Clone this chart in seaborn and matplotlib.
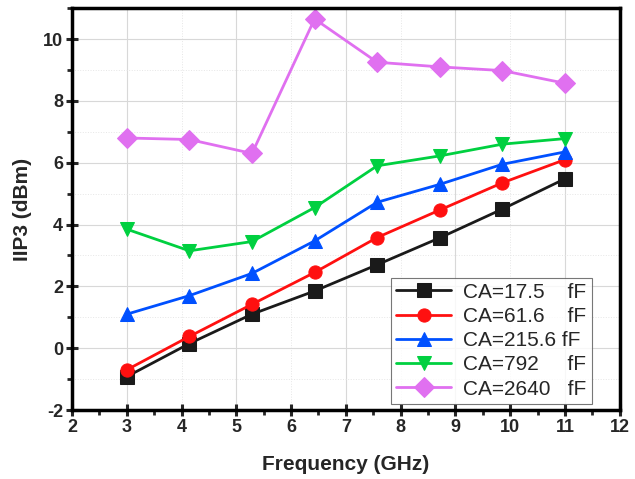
import numpy as np
import pandas as pd
import matplotlib
matplotlib.use("Agg")
import matplotlib.pyplot as plt
import seaborn as sns
from matplotlib.ticker import MultipleLocator

freq = [3.0, 4.143, 5.286, 6.429, 7.571, 8.714, 9.857, 11.0]
ca_17_5 = [-0.92, 0.15, 1.10, 1.85, 2.70, 3.57, 4.50, 5.48]
ca_61_6 = [-0.70, 0.38, 1.42, 2.45, 3.58, 4.47, 5.35, 6.10]
ca_215_6 = [1.10, 1.70, 2.42, 3.47, 4.72, 5.30, 5.95, 6.35]
ca_792 = [3.85, 3.15, 3.45, 4.55, 5.90, 6.22, 6.60, 6.78]
ca_2640 = [6.80, 6.75, 6.30, 10.65, 9.25, 9.10, 8.98, 8.57]

labels = ["CA=17.5    fF", "CA=61.6    fF", "CA=215.6 fF", "CA=792     fF", "CA=2640   fF"]
series = [ca_17_5, ca_61_6, ca_215_6, ca_792, ca_2640]
colors = ["#1a1a1a", "#ff1010", "#0050ff", "#00d040", "#e070f0"]
markers = ["s", "o", "^", "v", "D"]

sns.set_style("white")
plt.rcParams["font.family"] = ["Liberation Sans", "DejaVu Sans"]
plt.rcParams["axes.unicode_minus"] = False

fig = plt.figure(figsize=(6.35, 4.79), dpi=100)
ax = fig.add_axes([0.1134, 0.144, 0.8626, 0.839])

# grid
for xv in [3, 5, 7, 9, 11]:
    ax.axvline(xv, color="#d8d8d8", lw=0.8, zorder=0)
for xv in [4, 6, 8, 10]:
    ax.axvline(xv, color="#e6e6e6", lw=0.7, ls=":", zorder=0)
for yv in [0, 2, 4, 6, 8, 10]:
    ax.axhline(yv, color="#d8d8d8", lw=0.8, zorder=0)
for yv in [-1, 1, 3, 5, 7, 9]:
    ax.axhline(yv, color="#e6e6e6", lw=0.7, ls=":", zorder=0)

for vals, lab, c, m in zip(series, labels, colors, markers):
    df = pd.DataFrame({"Frequency": freq, "IIP3": vals})
    ms = 10.5 if m in ("^", "v", "D") else 9.5
    sns.lineplot(data=df, x="Frequency", y="IIP3", ax=ax, color=c, marker=m,
                 markersize=ms, markeredgecolor=c, linewidth=2, label=lab)

ax.set_xlim(2, 12)
ax.set_ylim(-2, 11)
ax.xaxis.set_major_locator(MultipleLocator(1))
ax.xaxis.set_minor_locator(MultipleLocator(0.5))
ax.yaxis.set_major_locator(MultipleLocator(2))
ax.yaxis.set_minor_locator(MultipleLocator(1))
ax.tick_params(which="major", direction="inout", length=9, width=2.2, labelsize=13, pad=2)
ax.tick_params(which="minor", direction="out", length=3.5, width=2)
ax.tick_params(axis="both", which="both", bottom=True, left=True, top=False, right=False)
for lbl in ax.get_xticklabels() + ax.get_yticklabels():
    lbl.set_fontweight("bold")
for sp in ax.spines.values():
    sp.set_linewidth(2.5)
    sp.set_color("black")

ax.set_xlabel("Frequency (GHz)", fontsize=15, fontweight="bold", labelpad=14)
ax.set_ylabel("IIP3 (dBm)", fontsize=15, fontweight="bold", labelpad=8)

leg = ax.legend(loc="lower right", bbox_to_anchor=(0.96, 0.0), fontsize=15,
                frameon=True, fancybox=False, edgecolor="#555555",
                handlelength=2.6, borderpad=0.25, labelspacing=0.25, handletextpad=0.6,
                borderaxespad=0.3)
leg.get_frame().set_linewidth(0.8)

fig.savefig("out.png", dpi=100)
